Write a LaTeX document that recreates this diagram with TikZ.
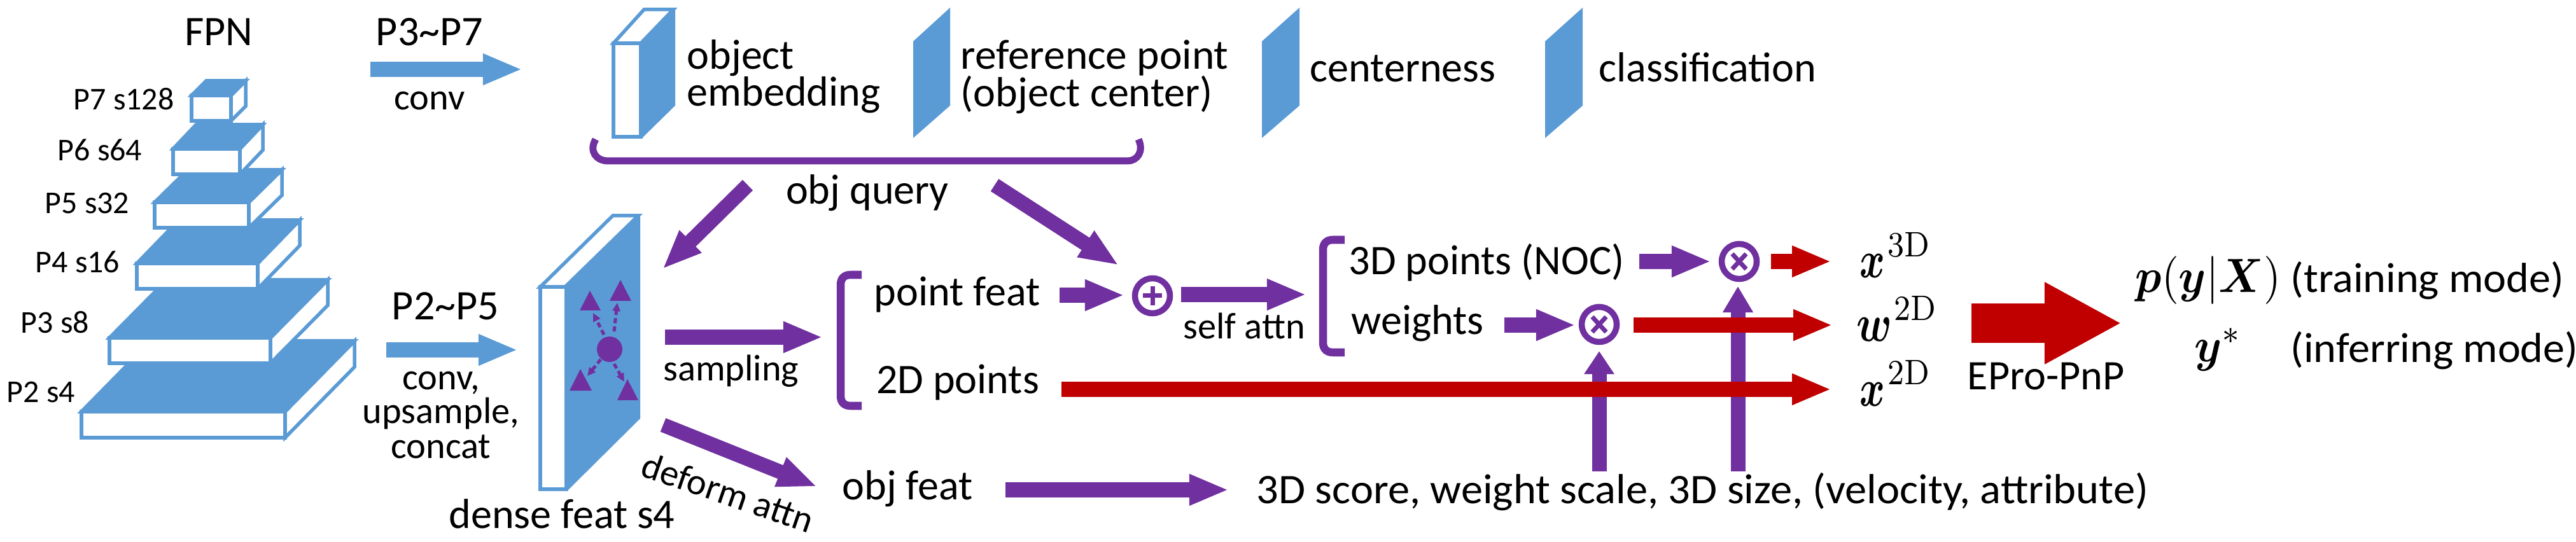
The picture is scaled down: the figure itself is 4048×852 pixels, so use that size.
\documentclass[tikz,border=0pt]{standalone}
\usepackage{amsmath}
\usepackage{fontspec}
\usepackage{graphicx}
\usetikzlibrary{arrows.meta}
\newfontfamily\calib{Carlito}
\definecolor{fpnblue}{HTML}{5B9BD5}
\definecolor{querypurple}{HTML}{7030A0}
\definecolor{pnpred}{HTML}{C00000}
\tikzset{
  lab/.style={font=\calib\fontsize{18.8}{19}\selectfont,text=black,inner sep=0pt,anchor=base},
  labw/.style={lab,anchor=base west},
  labm/.style={lab,font=\calib\fontsize{16.6}{17}\selectfont},
  labs/.style={lab,font=\calib\fontsize{14.2}{15}\selectfont,anchor=base west},
  mth/.style={inner sep=0pt,anchor=base west,font=\fontsize{10}{12}\selectfont},
  boxline/.style={draw=fpnblue,line width=.055cm,miter limit=10,line join=miter},
  blockarr/.style={line width=.23cm,-{Triangle[length=#1,width=.45cm]}},
  blockarr/.default=.62cm,
  bluearr/.style={blockarr,draw=fpnblue,fill=fpnblue},
  purplearr/.style={blockarr=#1,draw=querypurple,fill=querypurple},
  purplearr/.default=.62cm,
  redarr/.style={blockarr,draw=pnpred,fill=pnpred},
  brk/.style={draw=querypurple,line width=.125cm,line join=round},
  dashedarr/.style={draw=querypurple,line width=.05cm,dash pattern=on .08cm off .05cm,-{Triangle[length=.13cm,width=.12cm]}},
  ringnode/.style={circle,draw=querypurple,line width=.095cm,minimum size=.55cm,inner sep=0pt,fill=white},
}
\newcommand\fpnbox[6]{%
  \draw[boxline,fill=white] (#2,#3) -- ++(#5,-#6) -- ++(0,#4-#3) -- (#2,#4) -- cycle;
  \draw[boxline,fill=fpnblue] (#1,#3) -- ++(#5,-#6) -- ++(#2-#1,0) -- (#2,#3) -- cycle;
  \draw[boxline,fill=white] (#1,#3) rectangle (#2,#4);
}
\newcommand\plane[2]{\fill[fpnblue] (#1,65) -- (#2,12) -- (#2,166) -- (#1,217) -- cycle;}
% bold base letter, horizontal scale, gap, then superscript in a small design size
\newcommand\mathsym[4]{\scalebox{#2}[2.36]{$\boldsymbol{#1}$}\kern#3pt\raisebox{.33cm}{\scalebox{1.74}[1.98]{\fontsize{8}{9}\selectfont$\mathrm{#4}$}}}
\begin{document}
\begin{tikzpicture}[x=.01cm,y=-.01cm]
\useasboundingbox (0,0) rectangle (4048,852);
% FPN
\fpnbox{128}{448}{647}{688}{109}{111}
\fpnbox{172}{425}{531}{571}{90}{91}
\fpnbox{215}{405}{414}{454}{66}{68}
\fpnbox{243}{391}{318}{358}{52}{51}
\fpnbox{272}{377}{234}{274}{36}{38}
\fpnbox{301}{363}{150}{190}{23}{23}
\node[lab] (fpn) at (344,72) {FPN};
\node[labs] (p7) at (115,173) {P7 s128};
\node[labs] (p6) at (90,253) {P6 s64};
\node[labs] (p5) at (70,336) {P5 s32};
\node[labs] (p4) at (55,429) {P4 s16};
\node[labs] (p3) at (32,524) {P3 s8};
\node[labs] (p2) at (10,632) {P2 s4};
% FPN arrows
\node[lab] (p37) at (675,72) {P3\textasciitilde P7};
\node[labm] (conva) at (675,173) {conv};
\coordinate (p37a) at (582,109); \coordinate (p37b) at (821,109);
\draw[bluearr] (p37a) -- (p37b);
\node[lab] (p25) at (700,503) {P2\textasciitilde P5};
\node[labm] (convb) at (693,613) {conv,};
\node[labm] (upsa) at (693,666) {upsample,};
\node[labm] (conc) at (693,720) {concat};
\coordinate (p25a) at (607,550); \coordinate (p25b) at (814,550);
\draw[bluearr] (p25a) -- (p25b);
% object embedding book
\fill[fpnblue] (1007,65) -- (1061,12) -- (1061,166) -- (1009,217) -- cycle;
\draw[boxline,fill=white] (964,68) -- (1012,15) -- (1058,15) -- (1007,68) -- cycle;
\draw[boxline,fill=white] (964,68) rectangle (1007,215);
\node[labw] (objemb) at (1079,109) {object};
\node[labw] (objemb2) at (1079,167) {embedding};
% planes
\plane{1435}{1493}
\node[labw] (refp) at (1509,109) {\scalebox{1.02}[1]{reference point}};
\node[labw] (refp2) at (1509,168) {(object center)};
\plane{1983}{2042}
\node[labw] (cent) at (2058,129) {centerness};
\plane{2428}{2487}
\node[labw] (cls) at (2512,129) {classification};
% obj query brace
\draw[draw=querypurple,line width=.11cm,line join=round] (936,219) .. controls (925,238) and (937,253) .. (956,253) -- (1772,253) .. controls (1787,253) and (1798,238) .. (1789,219);
\node[lab] (objq) at (1363,321) {obj query};
\coordinate (qa) at (1175,291); \coordinate (qb) at (1041,423);
\draw[purplearr] (qa) -- (qb);
\coordinate (qc) at (1563,291); \coordinate (qd) at (1758,417);
\draw[purplearr] (qc) -- (qd);
% dense feature book
\fill[fpnblue] (888,450) -- (1006,336) -- (1006,658) -- (893,770) -- cycle;
\draw[boxline,fill=white] (849,451) -- (963,339) -- (1003,339) -- (888,451) -- cycle;
\draw[boxline,fill=white] (849,451) rectangle (890,769);
\node[lab] (dense) at (883,830) {dense feat s4};
\node[circle,fill=querypurple,minimum size=.4cm,inner sep=0pt] (centerpt) at (958,549) {};
\fill[querypurple] (927,457) -- (944,488) -- (911,488) -- cycle;
\fill[querypurple] (975,440) -- (992,473) -- (958,473) -- cycle;
\fill[querypurple] (912,580) -- (930,614) -- (895,614) -- cycle;
\fill[querypurple] (986,596) -- (1003,629) -- (970,629) -- cycle;
\coordinate (ta) at (932,492); \coordinate (tb) at (970,476);
\coordinate (tc) at (923,591); \coordinate (td) at (981,600);
\draw[dashedarr] (949,526) -- (ta);
\draw[dashedarr] (965,521) -- (tb);
\draw[dashedarr] (944,565) -- (tc);
\draw[dashedarr] (965,572) -- (td);
% sampling
\coordinate (sa) at (1045,530); \coordinate (sb) at (1293,530);
\draw[purplearr] (sa) -- (sb);
\node[labm] (samp) at (1149,598) {sampling};
\draw[brk] (1354,432) -- (1337,432) .. controls (1326,432) and (1321,438) .. (1321,448) -- (1321,622) .. controls (1321,632) and (1326,638) .. (1337,638) -- (1354,638);
\node[lab] (ptfeat) at (1504,481) {point feat};
\node[lab] (pts2d) at (1505,618) {2D points};
% plus
\node[ringnode] (plus) at (1811,465) {};
\fill[querypurple] (1796,461.5) rectangle (1826,468.5);
\fill[querypurple] (1807.5,450) rectangle (1814.5,480);
\coordinate (pfe) at (1665,464); \coordinate (plw) at (1767,464);
\draw[purplearr] (pfe) -- (plw);
\coordinate (pla) at (1856,463); \coordinate (plb) at (2053,463);
\draw[purplearr] (pla) -- (plb);
\node[labm] (selfa) at (1955,533) {self attn};
\draw[brk] (2113,377) -- (2095,377) .. controls (2084,377) and (2079,383) .. (2079,393) -- (2079,538) .. controls (2079,548) and (2084,554) .. (2095,554) -- (2113,554);
\node[labw] (pts3d) at (2119,432) {3D points (NOC)};
\node[labw] (wts) at (2123,525) {weights};
% obj feat
\node[lab] (objf) at (1426,785) {obj feat};
\coordinate (ofa) at (1580,770); \coordinate (ofb) at (1931,770);
\draw[purplearr] (ofa) -- (ofb);
\node[labw] (score) at (1974,791) {\scalebox{1.035}[1]{3D score, weight scale, 3D size, (velocity, attribute)}};
\coordinate (da) at (1042,668); \coordinate (db) at (1284,765);
\draw[purplearr] (da) -- (db);
\node[labm,rotate=-19,anchor=center] (deform) at (1144,774) {deform attn};
% multiply
\node[ringnode] (mulb) at (2733,411) {};
\node[ringnode] (mula) at (2513,510) {};
\foreach \c in {mula,mulb}{
  \draw[querypurple,line width=.07cm] ([shift={(-11,-12)}]\c.center) -- ([shift={(11,12)}]\c.center);
  \draw[querypurple,line width=.07cm] ([shift={(-11,12)}]\c.center) -- ([shift={(11,-12)}]\c.center);
}
\coordinate (v1a) at (2513,741); \coordinate (v1b) at (2513,552);
\draw[purplearr=.36cm] (v1a) -- (v1b);
\coordinate (v2a) at (2731,741); \coordinate (v2b) at (2731,450);
\draw[purplearr=.41cm] (v2a) -- (v2b);
\coordinate (m3a) at (2576,411); \coordinate (m3b) at (2689,411);
\draw[purplearr] (m3a) -- (m3b);
\coordinate (m2a) at (2364,511); \coordinate (m2b) at (2476,511);
\draw[purplearr] (m2a) -- (m2b);
% red
\coordinate (r1a) at (2783,411); \coordinate (r1b) at (2878,411);
\draw[redarr] (r1a) -- (r1b);
\coordinate (r2a) at (2567,511); \coordinate (r2b) at (2880,511);
\draw[redarr] (r2a) -- (r2b);
\coordinate (r3a) at (1668,612); \coordinate (r3b) at (2878,612);
\draw[redarr] (r3a) -- (r3b);
\node[mth] (x3d) at (2922,437) {\mathsym{x}{1.72}{1.1}{3D}};
\node[mth] (w2d) at (2917,537) {\mathsym{w}{1.85}{.8}{2D}};
\node[mth] (x2d) at (2922,638) {\mathsym{x}{1.72}{1.1}{2D}};
\coordinate (pnpa) at (3098,508); \coordinate (pnpb) at (3334,508);
\draw[draw=pnpred,line width=.61cm,-{Triangle[length=1.21cm,width=1.2cm]}] (pnpa) -- (pnpb);
\node[lab] (pnp) at (3215,613) {EPro-PnP};
\node[mth] (pyx) at (3355,460) {\scalebox{1.96}[2.15]{$\boldsymbol{p}(\boldsymbol{y}|\boldsymbol{X})$}};
\node[mth] (ystar) at (3448,568) {\scalebox{1.96}[2.15]{$\boldsymbol{y}^{*}$}};
\node[labw] (train) at (3599,460) {\scalebox{1.03}[1]{(training mode)}};
\node[labw] (infer) at (3599,569) {\scalebox{1.03}[1]{(inferring mode)}};
\end{tikzpicture}
\end{document}
